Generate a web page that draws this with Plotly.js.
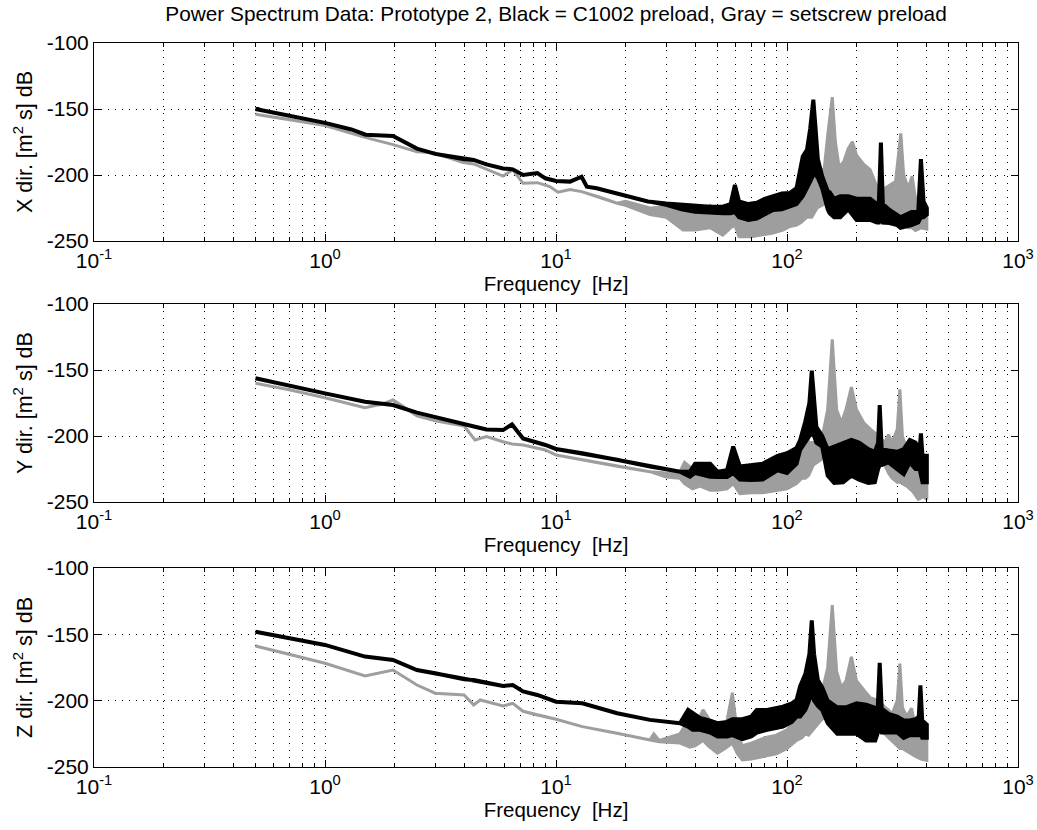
<!DOCTYPE html>
<html>
<head>
<meta charset="utf-8">
<script src="https://cdn.plot.ly/plotly-3.0.1.min.js"></script>
<style>html,body{margin:0;padding:0;background:#fff;}#chart{width:1037px;height:830px;}</style>
</head>
<body>
<div id="chart"></div>
<script>
// ---- X direction ----
const xBlackF  = [0.5, 0.7, 1.0, 1.3, 1.5, 1.97, 2.5, 3.0, 4.0, 4.4, 5.0, 5.9, 6.5, 7.2, 8.3, 9.0, 10, 11.5, 12.9, 13.6, 15, 18.4, 25, 30, 35, 40, 46.5, 52.7, 57, 59.5, 62, 68, 74, 80, 87, 95, 103, 110, 117, 122, 126, 130, 133, 136, 142, 150, 153, 160, 170, 184, 200, 229, 245, 250, 255, 260, 278, 300, 310, 346, 370, 380, 390, 403];
const xBlackHi = [-150, -155, -160.5, -165.5, -169.5, -170.5, -180, -184, -188, -188.6, -192, -195, -195.7, -200, -198.5, -202.5, -204.5, -205, -201.3, -208.8, -210, -213.9, -220, -221.5, -222.5, -222.7, -224, -224, -222, -207.6, -220, -222, -221, -218, -216.4, -214, -213.6, -210, -186, -181, -165, -143, -165, -188, -201, -212, -213, -218, -216, -216, -218, -218, -222, -220, -175.5, -222, -226.5, -230, -232, -228, -228, -188, -220, -225];
const xBlackLo = [-150, -155, -160.5, -165.5, -169.5, -170.5, -180, -184, -188, -188.6, -192, -195, -195.7, -200, -198.5, -202.5, -204.5, -205, -201.3, -208.8, -210, -213.9, -220, -222.5, -226, -227.8, -228.5, -229, -229, -228, -232, -234, -233, -230, -226.5, -226, -224, -222, -216, -210, -205, -200, -200, -202, -210, -226, -229, -232, -232, -226, -234, -234, -236, -236, -232, -236, -236.4, -238, -240, -238, -236, -232, -232, -230];

const xGrayF  = [0.5, 0.7, 1.0, 1.49, 1.97, 2.5, 2.94, 3.96, 4.4, 5.9, 6.5, 7.2, 8.3, 9.4, 10.2, 11.5, 12.9, 15, 18.4, 20, 25.5, 30, 35.5, 40, 46.5, 52.7, 57, 59.5, 62, 70, 80, 87, 96, 103, 110, 115, 122, 128, 135, 145, 150, 157, 162, 168, 176, 184, 192, 200, 215, 229, 240, 255, 265, 278, 295, 311, 320, 335, 348, 360, 380, 403];
const xGrayHi = [-154, -158, -162.5, -171.5, -177, -182.3, -183, -190.6, -191.6, -200.8, -196, -206.3, -205.8, -208.8, -213, -211, -212.6, -216, -221.4, -220, -225, -224, -226.5, -228.8, -223, -231.6, -226, -208, -232.6, -231.6, -228, -226.5, -221, -216, -215, -210, -196, -205, -200, -195, -170, -141, -175, -193.7, -190, -180, -174.8, -185, -192, -196, -205, -215, -210, -207.6, -205, -168.4, -200, -210, -201, -218, -215, -226];
const xGrayLo = [-154, -158, -162.5, -171.5, -177, -182.3, -183, -190.6, -191.6, -200.8, -196, -206.3, -205.8, -208.8, -213, -211, -212.6, -216, -221.4, -223, -230, -232, -241.7, -241.7, -240, -245.5, -240, -238, -246.7, -246.7, -245, -244, -241.7, -239, -238, -236, -232, -232, -225, -222, -222, -224, -222, -224, -224, -225, -225, -226, -226, -228, -230, -232, -234, -234, -236, -236, -238, -240, -240, -242, -240, -241];

// ---- Y direction ----
const yBlackF  = [0.5, 0.7, 1.0, 1.49, 1.97, 2.5, 3.0, 4.0, 4.46, 5.0, 5.9, 6.45, 7.2, 9.0, 10, 13, 18.4, 25.5, 34.4, 38, 40, 46.5, 50, 55, 58.5, 62.5, 70, 78.5, 91, 100, 110, 114, 120, 125, 128, 131, 134, 142, 150, 160, 175, 190, 205, 225, 240, 248, 252, 257, 275, 300, 320, 340, 360, 375, 380, 386, 403];
const yBlackHi = [-156.3, -161.5, -167.7, -174, -176.5, -182.3, -185.9, -191.2, -193, -195, -195.5, -191.2, -201.8, -206.8, -209.8, -213, -218, -223.2, -227, -227, -221, -221, -227, -226, -208, -223, -222, -221, -215, -213, -209, -203, -189, -175, -150.5, -175, -193, -200, -210, -208, -205, -203, -205, -210, -212, -205, -176.5, -210, -211, -212, -210, -203, -205, -210, -198, -215, -215];
const yBlackLo = [-156.3, -161.5, -167.7, -174, -176.5, -182.3, -185.9, -191.2, -193, -195, -195.5, -191.2, -201.8, -206.8, -209.8, -213, -218, -223.2, -227, -230.8, -228, -230.8, -231, -231, -228, -233, -233.3, -233, -226, -228, -221, -210.6, -205, -200, -198, -200, -205, -208, -230, -235.6, -235, -230, -233, -235.6, -235, -225, -222, -222, -220, -225, -229, -220, -225, -225, -228, -235, -235];

const yGrayF  = [0.5, 0.7, 1.0, 1.49, 1.75, 1.97, 2.2, 2.5, 3.0, 4.0, 4.46, 5.0, 5.9, 6.45, 7.2, 9.0, 10, 13, 18.4, 25.5, 30, 34.4, 36, 39, 42, 46.5, 50, 55, 58.5, 62.5, 70, 78.5, 91, 100, 110, 116, 120, 124, 130, 140, 150, 157, 164, 172, 180, 190, 200, 215, 230, 250, 265, 275, 285, 300, 308, 316, 330, 350, 370, 390, 403];
const yGrayHi = [-160, -165, -171, -178.5, -176, -172.7, -178, -184.8, -188.4, -192.4, -203, -200.5, -204.3, -206, -206.8, -210.6, -214.4, -218, -223, -227, -228, -227, -220, -225, -224, -228, -233, -230, -210, -233, -233.3, -233, -226, -222, -215, -205, -193, -205, -205, -206, -180, -126.8, -180, -190, -180, -163, -180, -190, -195, -200, -205, -199, -205, -195, -164.6, -200, -210, -220, -225, -228, -230];
const yGrayLo = [-160, -165, -171, -178.5, -176, -172.7, -178, -184.8, -188.4, -192.4, -203, -200.5, -204.3, -206, -206.8, -210.6, -214.4, -218, -223, -227, -231, -232, -236, -240, -238, -241, -241, -240, -236, -243.6, -243, -243, -241, -240, -236, -232, -232, -230, -222, -218, -212, -210, -208, -207, -206, -206, -207, -208, -212, -215, -222, -228, -232, -235, -235, -236, -238, -242, -248, -246, -248];

// ---- Z direction ----
const zBlackF  = [0.5, 0.7, 1.0, 1.49, 1.97, 2.5, 3.0, 4.0, 4.4, 5.9, 6.5, 7.2, 8.3, 10, 13, 18.4, 25.5, 34.4, 37.3, 39, 42, 46.5, 50, 55, 58, 64, 70, 74, 82, 96, 105, 110, 114, 120, 125, 128, 131, 136, 142, 150, 165, 180, 200, 220, 241, 247, 252, 257, 275, 300, 320, 340, 360, 372, 378, 385, 403];
const zBlackHi = [-148, -152.5, -158, -166.8, -169.3, -176.9, -179.4, -183.9, -184.5, -188.9, -188.2, -193, -195.7, -200.8, -202, -209.5, -214.5, -217, -207, -209, -213, -215, -217, -216, -214, -214, -212, -207, -207, -204.5, -202, -199.5, -189, -180, -165, -139.5, -165, -184.4, -190, -200, -205, -205, -202, -203, -205, -206, -171.5, -206, -210, -212, -215, -215, -214, -212, -188.5, -215, -218];
const zBlackLo = [-148, -152.5, -158, -166.8, -169.3, -176.9, -179.4, -183.9, -184.5, -188.9, -188.2, -193, -195.7, -200.8, -202, -209.5, -214.5, -217, -219.6, -222, -222, -224, -227, -227, -226, -229, -227, -224, -222, -219.6, -216, -212, -212, -207, -200, -195, -200, -204, -207, -217, -225, -225, -225, -230, -230, -225, -220, -224, -224, -224, -228, -226, -226, -226, -224, -228, -228];

const zGrayF  = [0.5, 0.7, 1.0, 1.49, 1.97, 2.5, 3.0, 4.0, 4.4, 4.7, 5.9, 6.5, 7.2, 8.3, 10, 13, 18.4, 25.5, 26.5, 28, 34.4, 38, 40, 43.3, 45.6, 48, 50, 54, 58, 61, 64, 70, 80, 90, 100, 110, 116, 120, 124, 130, 140, 150, 157, 164, 172, 180, 190, 200, 215, 230, 250, 265, 275, 285, 300, 308, 316, 330, 346, 360, 380, 403];
const zGrayHi = [-158.8, -165, -171.8, -181.4, -176.9, -188.2, -194.4, -195.7, -203.2, -199.5, -204, -202, -208, -210.8, -214, -219.6, -224.6, -229.6, -225, -230, -225, -213, -220, -207, -213, -225, -225, -222, -194, -225, -234, -232, -228, -226, -222, -212, -205, -188, -205, -200, -198, -175, -128, -178, -190, -185, -167, -185, -192, -198, -200, -205, -207, -210, -200, -172, -205, -212, -205.7, -220, -222, -228];
const zGrayLo = [-158.8, -165, -171.8, -181.4, -176.9, -188.2, -194.4, -195.7, -203.2, -199.5, -204, -202, -208, -210.8, -214, -219.6, -224.6, -229.6, -230, -231, -232, -235, -234, -230, -234, -237, -239.5, -236, -232, -240, -244.7, -244, -242, -240, -236, -230, -228, -225, -226, -222, -215, -210, -212, -210, -212, -212, -214, -217, -217, -218, -222, -225, -228, -230, -234, -236, -236, -238, -240, -242, -244, -245];

// ---- axes ----
const xTickVals = [0.1, 1, 10, 100, 1000];
const xTickText = ['10<sup>-1</sup>', '10<sup>0</sup>', '10<sup>1</sup>', '10<sup>2</sup>', '10<sup>3</sup>'];
const xMinorTicks = [0.2,0.3,0.4,0.5,0.6,0.7,0.8,0.9, 2,3,4,5,6,7,8,9, 20,30,40,50,60,70,80,90, 200,300,400,500,600,700,800,900];
const yTickVals = [-250, -200, -150, -100];
const yTickText = ['-250', '-200', '-150', '-100'];
const yTitles = ['X dir. [m<sup>2</sup> s] dB', 'Y dir. [m<sup>2</sup> s] dB', 'Z dir. [m<sup>2</sup> s] dB'];
const xTitle = 'Frequency&nbsp; [Hz]';
const chartTitle = 'Power Spectrum Data: Prototype 2, Black = C1002 preload, Gray = setscrew preload';

const BLACK = '#000000', GRAY = '#9e9e9e';
const FONT = 'Liberation Sans, Arial, Helvetica, sans-serif';

function band(f, hi, lo, color, width, xa, ya) {
  return {
    type: 'scatter', mode: 'lines',
    x: f.concat(f.slice().reverse()),
    y: hi.concat(lo.slice().reverse()),
    fill: 'toself', fillcolor: color,
    line: {color: color, width: width, shape: 'linear'},
    xaxis: xa, yaxis: ya, hoverinfo: 'skip', showlegend: false
  };
}

const traces = [
  band(xGrayF, xGrayHi, xGrayLo, GRAY, 3, 'x', 'y'),
  band(xBlackF, xBlackHi, xBlackLo, BLACK, 4, 'x', 'y'),
  band(yGrayF, yGrayHi, yGrayLo, GRAY, 3, 'x2', 'y2'),
  band(yBlackF, yBlackHi, yBlackLo, BLACK, 4, 'x2', 'y2'),
  band(zGrayF, zGrayHi, zGrayLo, GRAY, 3, 'x3', 'y3'),
  band(zBlackF, zBlackHi, zBlackLo, BLACK, 4, 'x3', 'y3')
];

const GRIDDASH = '1px,6px';
function xAxis(anchor) {
  return {
    type: 'log', range: [-1, 3], anchor: anchor,
    tickmode: 'array', tickvals: xTickVals, ticktext: xTickText,
    ticks: 'inside', ticklen: 7, tickcolor: '#000', tickwidth: 1,
    mirror: 'allticks', showline: true, linecolor: '#000', linewidth: 1,
    showgrid: true, gridcolor: '#000', gridwidth: 1, griddash: GRIDDASH,
    zeroline: false,
    minor: {tickmode: 'array', tickvals: xMinorTicks, ticks: 'inside', ticklen: 4, tickcolor: '#000',
            showgrid: true, gridcolor: '#000', gridwidth: 1, griddash: GRIDDASH},
    tickfont: {family: FONT, size: 21, color: '#000'},
    ticklabelstandoff: 1,
    title: {text: xTitle, font: {family: FONT, size: 20.5, color: '#000'}, standoff: 2},
    fixedrange: true
  };
}
function yAxis(dom, anchor, title) {
  return {
    domain: dom, anchor: anchor, range: [-250, -100],
    tickmode: 'array', tickvals: yTickVals, ticktext: yTickText,
    ticks: 'inside', ticklen: 7, tickcolor: '#000', tickwidth: 1,
    mirror: 'allticks', showline: true, linecolor: '#000', linewidth: 1,
    showgrid: true, gridcolor: '#000', gridwidth: 1, griddash: GRIDDASH,
    zeroline: false,
    tickfont: {family: FONT, size: 21, color: '#000'},
    title: {text: title, font: {family: FONT, size: 21.5, color: '#000'}, standoff: 8},
    fixedrange: true
  };
}

const layout = {
  width: 1037, height: 830,
  margin: {l: 94, r: 19, t: 43, b: 63},
  paper_bgcolor: '#fff', plot_bgcolor: '#fff',
  font: {family: FONT, color: '#000'},
  title: {text: chartTitle, font: {family: FONT, size: 20.8, color: '#000'},
          x: 0.5, xref: 'paper', xanchor: 'center', y: 0.984, yref: 'container', yanchor: 'middle'},
  xaxis: xAxis('y'), xaxis2: xAxis('y2'), xaxis3: xAxis('y3'),
  yaxis: yAxis([0.7265, 1], 'x', yTitles[0]),
  yaxis2: yAxis([0.366, 0.6395], 'x2', yTitles[1]),
  yaxis3: yAxis([0, 0.2749], 'x3', yTitles[2]),
  showlegend: false
};

Plotly.newPlot('chart', traces, layout, {displayModeBar: false, staticPlot: true});
</script>
</body>
</html>
